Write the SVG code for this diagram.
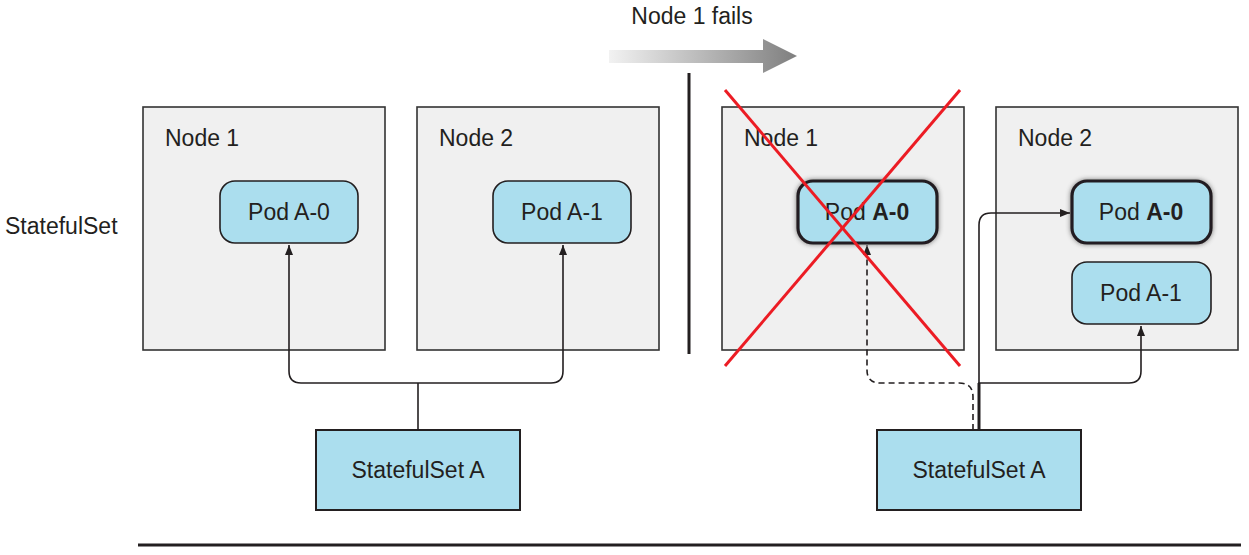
<svg xmlns="http://www.w3.org/2000/svg" width="1249" height="555" viewBox="0 0 1249 555">
<style>
text{font-family:"Liberation Sans",Arial,sans-serif;fill:#231f20;font-size:23px}
.node{fill:#f0f0f0;stroke:#333;stroke-width:1.6}
.pod{fill:#abdeee;stroke:#231f20;stroke-width:1.6}
.podb{fill:#abdeee;stroke:#231f20;stroke-width:3.2;filter:url(#sh)}
.ss{fill:#abdeee;stroke:#231f20;stroke-width:2}
.c{fill:none;stroke:#231f20;stroke-width:1.6}
.d{fill:none;stroke:#231f20;stroke-width:1.6;stroke-dasharray:6 4}
.x{stroke:#ec1c24;stroke-width:3}
.m{text-anchor:middle}
</style>
<defs>
<marker id="ah" viewBox="0 0 10 10" refX="10" refY="5" markerWidth="10" markerHeight="10" markerUnits="userSpaceOnUse" orient="auto">
<path d="M0,1 L10,5 L0,9 Z" fill="#231f20"/>
</marker>
<linearGradient id="g" x1="0" y1="0" x2="1" y2="0">
<stop offset="0" stop-color="#f2f2f2"/>
<stop offset="1" stop-color="#7f7f7f"/>
</linearGradient>
<filter id="sh" x="-20%" y="-30%" width="140%" height="160%">
<feGaussianBlur in="SourceAlpha" stdDeviation="2.5"/>
<feOffset dx="0" dy="0" result="b"/>
<feFlood flood-color="#000" flood-opacity="0.5"/>
<feComposite in2="b" operator="in"/>
<feMerge><feMergeNode/><feMergeNode in="SourceGraphic"/></feMerge>
</filter>
</defs>
<g id="title">
<text x="692" y="24" class="m">Node 1 fails</text>
<path d="M609,50 H763 V39 L797,56 L763,73 V63 H609 Z" fill="url(#g)"/>
<line x1="689" y1="73" x2="689" y2="354" stroke="#231f20" stroke-width="3"/>
</g>
<text id="label-statefulset" x="5" y="234">StatefulSet</text>
<g id="left-node1"><rect class="node" x="143" y="107" width="242" height="243"/><text x="165" y="146">Node 1</text></g>
<g id="left-node2"><rect class="node" x="417" y="107" width="242" height="243"/><text x="439" y="146">Node 2</text></g>
<g id="right-node1"><rect class="node" x="722" y="107" width="242" height="243"/><text x="744" y="146">Node 1</text></g>
<g id="right-node2"><rect class="node" x="996" y="107" width="242" height="243"/><text x="1018" y="146">Node 2</text></g>
<g id="left-pod-a0"><rect class="pod" x="220" y="181" width="138" height="62" rx="15"/><text x="289" y="220" class="m">Pod A-0</text></g>
<g id="left-pod-a1"><rect class="pod" x="493" y="181" width="138" height="62" rx="15"/><text x="562" y="220" class="m">Pod A-1</text></g>
<g id="right-pod-a0-failed"><rect class="podb" x="798" y="181" width="139" height="62" rx="15"/><text x="867" y="220" class="m">Pod <tspan font-weight="bold">A-0</tspan></text></g>
<g id="right-pod-a0-new"><rect class="podb" x="1072" y="181" width="139" height="62" rx="15"/><text x="1141" y="220" class="m">Pod <tspan font-weight="bold">A-0</tspan></text></g>
<g id="right-pod-a1"><rect class="pod" x="1072" y="262" width="139" height="62" rx="15"/><text x="1141" y="301" class="m">Pod A-1</text></g>
<g id="left-statefulset"><rect class="ss" x="316" y="430" width="204" height="80"/><text x="418" y="478" class="m">StatefulSet A</text></g>
<g id="right-statefulset"><rect class="ss" x="877" y="430" width="204" height="80"/><text x="979" y="478" class="m">StatefulSet A</text></g>
<g id="connectors">
<path class="c" d="M418,430 V383"/>
<path class="c" d="M418,383 H301 Q289,383 289,371 V245" marker-end="url(#ah)"/>
<path class="c" d="M418,383 H551 Q563,383 563,371 V245" marker-end="url(#ah)"/>
<path class="d" d="M973,430 V397 Q973,383 959,383 H880 Q867,383 867,370 V245" marker-end="url(#ah)"/>
<path class="c" d="M979,430 V225 Q979,213 991,213 H1070" marker-end="url(#ah)"/>
<path class="c" d="M979,430 V383 H1129 Q1141,383 1141,371 V326" marker-end="url(#ah)"/>
<path d="M979,430 V383" stroke="#231f20" stroke-width="3" fill="none"/>
</g>
<g id="cross">
<line class="x" x1="725" y1="90" x2="960" y2="366"/>
<line class="x" x1="960" y1="90" x2="725" y2="366"/>
</g>
<line x1="138" y1="545" x2="1241" y2="545" stroke="#231f20" stroke-width="3"/>
</svg>
